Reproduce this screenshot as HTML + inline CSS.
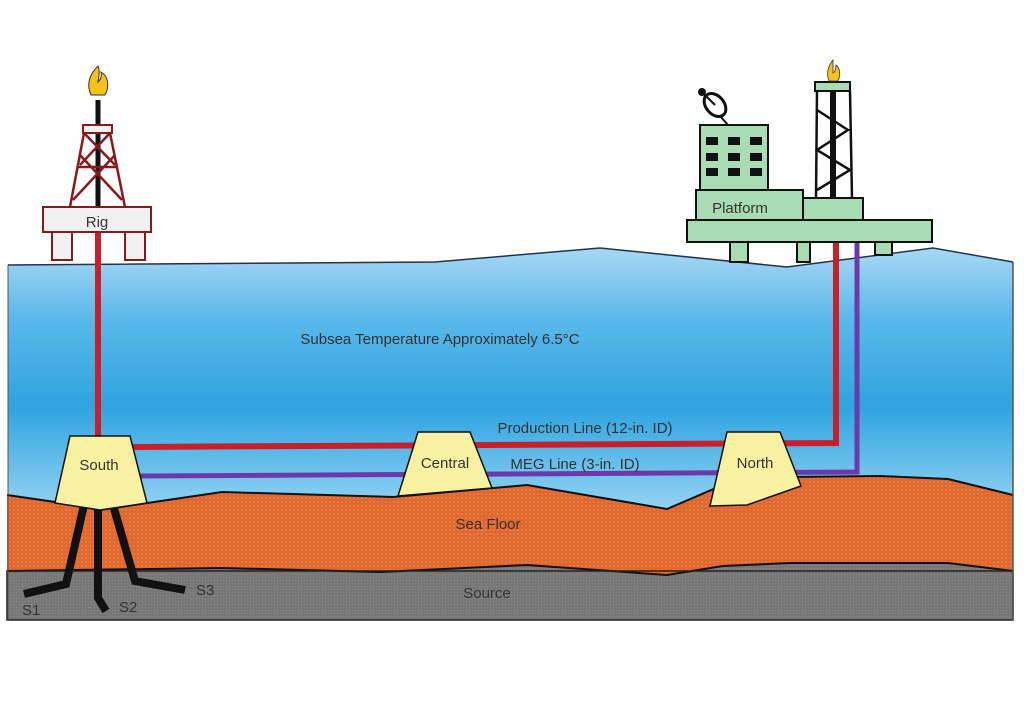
<!DOCTYPE html>
<html><head><meta charset="utf-8"><style>
html,body{margin:0;padding:0;background:#fff;}
svg{display:block;}
text{font-family:"Liberation Sans",sans-serif;fill:#333;}
</style></head><body>
<svg width="1024" height="722" viewBox="0 0 1024 722" xmlns="http://www.w3.org/2000/svg">
<defs>
<linearGradient id="sea" x1="0" y1="0" x2="0" y2="1">
<stop offset="0" stop-color="#a8d8f4"/>
<stop offset="0.2" stop-color="#5bb8ea"/>
<stop offset="0.45" stop-color="#2ea4e0"/>
<stop offset="0.8" stop-color="#a9dcf5"/>
<stop offset="1" stop-color="#a9dcf5"/>
</linearGradient>
<pattern id="dots" width="4" height="4" patternUnits="userSpaceOnUse"><rect width="4" height="4" fill="#e0682e"/><circle cx="2" cy="2" r="1" fill="#ea7e45"/></pattern>
<pattern id="gdots" width="3" height="3" patternUnits="userSpaceOnUse"><rect width="3" height="3" fill="#777"/><rect x="1" y="1" width="1" height="1" fill="#8c8c8c"/></pattern>
</defs>
<!-- sea -->
<polygon points="8,265 435,262 600,248 787,267 933,248 1013,262 1013,600 8,600" fill="url(#sea)"/>
<polyline points="8,265 435,262 600,248 787,267 933,248 1013,262" fill="none" stroke="#234" stroke-width="1.5"/>
<!-- seafloor -->
<polygon points="7,495 55,502 100,510 222,492 393,497 527,485 667,509 723,485 790,477 880,476 948,479 1013,495 1013,571 948,563 860,563 790,563 723,566 667,575 527,565 380,572 222,568 7,571" fill="url(#dots)"/>
<polyline points="7,495 55,502 100,510 222,492 393,497 527,485 667,509 723,485 790,477 880,476 948,479 1013,495" fill="none" stroke="#111" stroke-width="2"/>
<!-- source -->
<polygon points="7,571 222,568 380,572 527,565 667,575 723,566 790,563 860,563 948,563 1013,571 1013,620 7,620" fill="url(#gdots)"/>
<polyline points="7,571 222,568 380,572 527,565 667,575 723,566 790,563 860,563 948,563 1013,571" fill="none" stroke="#111" stroke-width="2"/>
<rect x="7" y="571" width="1006" height="49" fill="none" stroke="#222" stroke-width="1.5"/>
<line x1="1013" y1="262" x2="1013" y2="620" stroke="#555" stroke-width="1.5"/>
<line x1="8" y1="265" x2="8" y2="620" stroke="#555" stroke-width="1"/>
<!-- wells -->
<g stroke="#111" stroke-width="8" fill="none" stroke-linejoin="miter">
<polyline points="84,505 66,584 24,594"/>
<polyline points="98,505 98,598 106,611"/>
<polyline points="113,505 135,581 185,590"/>
</g>
<text x="22" y="615" font-size="15">S1</text>
<text x="119" y="612" font-size="15">S2</text>
<text x="196" y="595" font-size="15">S3</text>
<!-- pipelines -->
<polyline points="98,232 98,440" fill="none" stroke="#c8202a" stroke-width="6"/>
<polyline points="130,447 836,443 836,242" fill="none" stroke="#c8202a" stroke-width="6"/>
<polyline points="140,476 857,472 857,242" fill="none" stroke="#6a3aa8" stroke-width="5"/>
<!-- pods -->
<polygon points="70,436 130,436 147,503 100,510 55,503" fill="#f8f1a2" stroke="#111" stroke-width="1.5"/>
<polygon points="418,432 470,432 492,488 398,496" fill="#f8f1a2" stroke="#111" stroke-width="1.5"/>
<path d="M727,432 L780,432 L801,486 L747,505 L710,506 Z" fill="#f8f1a2" stroke="#111" stroke-width="1.5"/>
<text x="99" y="470" font-size="15" text-anchor="middle">South</text>
<text x="445" y="468" font-size="15" text-anchor="middle">Central</text>
<text x="755" y="468" font-size="15" text-anchor="middle">North</text>
<text x="585" y="433" font-size="15" text-anchor="middle">Production Line (12-in. ID)</text>
<text x="575" y="469" font-size="15" text-anchor="middle">MEG Line (3-in. ID)</text>
<text x="488" y="529" font-size="15" text-anchor="middle">Sea Floor</text>
<text x="487" y="598" font-size="15" text-anchor="middle">Source</text>
<text x="440" y="344" font-size="15" text-anchor="middle">Subsea Temperature Approximately 6.5°C</text>
<!-- rig -->
<g stroke="#8a1a1a" stroke-width="2" fill="#f0f0f0">
<rect x="52" y="232" width="20" height="28"/>
<rect x="125" y="232" width="20" height="28"/>
</g>
<line x1="98" y1="100" x2="98" y2="207" stroke="#111" stroke-width="5"/>
<g stroke="#8a1a1a" stroke-width="2.5" fill="none">
<line x1="84" y1="133" x2="70" y2="207"/>
<line x1="110" y1="133" x2="125" y2="207"/>
<line x1="84" y1="133" x2="115" y2="165"/><line x1="110" y1="133" x2="80" y2="165"/>
<line x1="80" y1="155" x2="122" y2="200"/><line x1="115" y1="155" x2="73" y2="200"/>
<line x1="78" y1="167" x2="117" y2="167"/>
</g>
<rect x="83" y="125" width="29" height="8" fill="#f0f0f0" stroke="#8a1a1a" stroke-width="2"/>
<rect x="43" y="207" width="108" height="25" fill="#f0f0f0" stroke="#8a1a1a" stroke-width="2"/>
<text x="97" y="227" font-size="15" text-anchor="middle">Rig</text>
<path d="M98,66 C90,74 86,84 91,95 L105,95 C110,86 108,76 101,72 C102,78 100,80 98,82 C99,76 100,70 98,66 Z" fill="#f5c21a" stroke="#333" stroke-width="1"/>
<!-- platform -->
<g fill="#a9dcb2" stroke="#111" stroke-width="2">
<rect x="730" y="242" width="18" height="20"/>
<rect x="797" y="242" width="13" height="20"/>
<rect x="875" y="242" width="17" height="13"/>
</g>
<line x1="833" y1="91" x2="833" y2="198" stroke="#111" stroke-width="6"/>
<g stroke="#111" stroke-width="2.5" fill="none">
<line x1="817" y1="91" x2="816" y2="198"/>
<line x1="850" y1="91" x2="852" y2="198"/>
<polyline points="817,110 848,130 817,150 850,170 817,190"/>
</g>
<rect x="815" y="82" width="35" height="9" fill="#a9dcb2" stroke="#111" stroke-width="2"/>
<path d="M833,60 C828,66 826,74 829,81 L838,81 C841,75 840,68 836,65 C836,70 835,72 833,73 Z" fill="#f5c21a" stroke="#333" stroke-width="0.8"/>
<rect x="700" y="125" width="68" height="65" fill="#a9dcb2" stroke="#111" stroke-width="2"/>
<g fill="#111">
<rect x="706" y="137" width="12" height="8"/><rect x="728" y="137" width="12" height="8"/><rect x="750" y="137" width="12" height="8"/>
<rect x="706" y="153" width="12" height="8"/><rect x="728" y="153" width="12" height="8"/><rect x="750" y="153" width="12" height="8"/>
<rect x="706" y="168" width="12" height="8"/><rect x="728" y="168" width="12" height="8"/><rect x="750" y="168" width="12" height="8"/>
</g>
<line x1="713" y1="108" x2="728" y2="125" stroke="#111" stroke-width="2"/>
<ellipse cx="715" cy="105" rx="9" ry="13" transform="rotate(-40 715 105)" fill="#fff" stroke="#111" stroke-width="3"/>
<line x1="703" y1="93" x2="715" y2="105" stroke="#111" stroke-width="2"/>
<circle cx="702" cy="92" r="4" fill="#111"/>
<rect x="803" y="198" width="60" height="22" fill="#a9dcb2" stroke="#111" stroke-width="2"/>
<rect x="696" y="190" width="107" height="30" fill="#a9dcb2" stroke="#111" stroke-width="2"/>
<text x="740" y="213" font-size="15" text-anchor="middle">Platform</text>
<rect x="687" y="220" width="245" height="22" fill="#a9dcb2" stroke="#111" stroke-width="2"/>
</svg>
</body></html>
